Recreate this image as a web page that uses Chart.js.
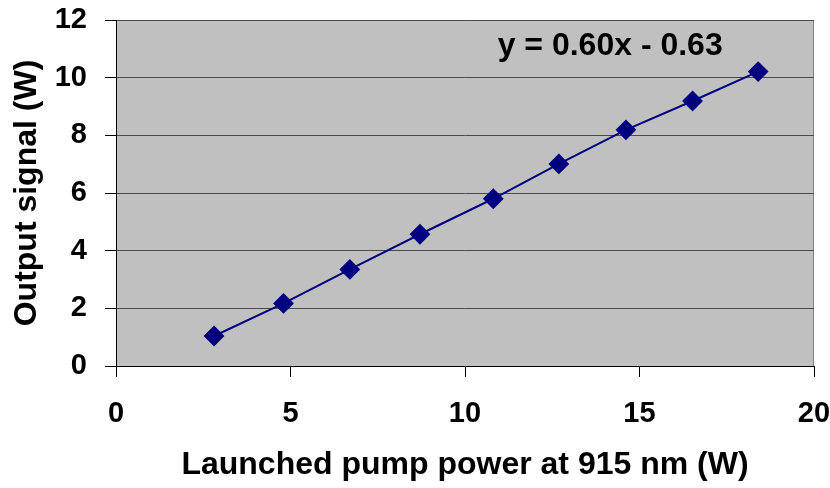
<!DOCTYPE html>
<html>
<head>
<meta charset="utf-8">
<title>Output signal vs launched pump power</title>
<script src="https://cdn.jsdelivr.net/npm/chart.js@4/dist/chart.umd.min.js"></script>
<style>
  html, body { margin: 0; padding: 0; background: #fff; }
  #chart { display: block; }
</style>
</head>
<body>
<canvas id="chart" width="830" height="488"></canvas>
<script>
// launched pump power (W) and measured output signal (W)
const pumpPower = [2.81, 4.80, 6.70, 8.71, 10.81, 12.69, 14.61, 16.52, 18.40];
const outputSignal = [1.04, 2.17, 3.35, 4.57, 5.80, 7.01, 8.19, 9.19, 10.21];

const fitLabel = "y = 0.60x - 0.63";
const fitLabelPos = { x: 14.16, y: 11.08 };

const FONT = "'Liberation Sans', Arial, sans-serif";

// grey plot area with a thin frame on top and right
const plotBackground = {
  id: "plotBackground",
  beforeDraw(chart) {
    const { ctx, chartArea: a } = chart;
    ctx.save();
    ctx.fillStyle = "#c0c0c0";
    ctx.fillRect(a.left, a.top, a.right - a.left, a.bottom - a.top);
    ctx.strokeStyle = "#808080";
    ctx.lineWidth = 1;
    ctx.beginPath();
    ctx.moveTo(a.left, a.top + 0.5);
    ctx.lineTo(a.right - 0.5, a.top + 0.5);
    ctx.lineTo(a.right - 0.5, a.bottom);
    ctx.stroke();
    ctx.restore();
  }
};

// trendline equation text
const fitText = {
  id: "fitText",
  afterDatasetsDraw(chart) {
    const { ctx, scales } = chart;
    ctx.save();
    ctx.font = "bold 32px " + FONT;
    ctx.fillStyle = "#000";
    ctx.textAlign = "center";
    ctx.textBaseline = "middle";
    ctx.fillText(fitLabel, scales.x.getPixelForValue(fitLabelPos.x), scales.y.getPixelForValue(fitLabelPos.y));
    ctx.restore();
  }
};

const points = pumpPower.map((x, i) => ({ x, y: outputSignal[i] }));

new Chart(document.getElementById("chart"), {
  type: "scatter",
  data: {
    datasets: [{
      data: points,
      showLine: true,
      borderColor: "#000080",
      borderWidth: 2,
      backgroundColor: "#000080",
      pointStyle: "rectRot",
      pointRadius: 9,
      pointHoverRadius: 9
    }]
  },
  options: {
    responsive: false,
    animation: false,
    layout: { padding: { top: 20, right: 16, left: 0, bottom: 0 } },
    plugins: {
      legend: { display: false },
      tooltip: { enabled: false }
    },
    scales: {
      x: {
        type: "linear",
        min: 0,
        max: 20,
        ticks: {
          stepSize: 5,
          padding: 20,
          color: "#000",
          font: { family: FONT, size: 29, weight: "bold" }
        },
        grid: {
          drawOnChartArea: false,
          drawTicks: true,
          tickLength: 11,
          tickColor: "#000"
        },
        border: { display: true, color: "#000", width: 1 },
        title: {
          display: true,
          text: "Launched pump power at 915 nm (W)",
          color: "#000",
          font: { family: FONT, size: 32, weight: "bold" },
          padding: { top: 0, bottom: 4 }
        },
        afterFit(scale) {
          scale.height = 122;
          // let the end labels hang past the plot edges
          scale.paddingLeft = 0;
          scale.paddingRight = 0;
        }
      },
      y: {
        type: "linear",
        min: 0,
        max: 12,
        ticks: {
          stepSize: 2,
          padding: 18,
          color: "#000",
          font: { family: FONT, size: 29, weight: "bold" }
        },
        grid: {
          color: "#4a4a4a",
          lineWidth: 1,
          tickLength: 11,
          tickColor: "#000"
        },
        border: { display: true, color: "#000", width: 1 },
        title: {
          display: true,
          text: "Output signal (W)",
          color: "#000",
          font: { family: FONT, size: 32, weight: "bold" },
          padding: { top: 8, bottom: 0 }
        },
        afterFit(scale) {
          scale.width = 116;
          scale.paddingTop = 0;
          scale.paddingBottom = 0;
        }
      }
    }
  },
  plugins: [plotBackground, fitText]
});
</script>
</body>
</html>
